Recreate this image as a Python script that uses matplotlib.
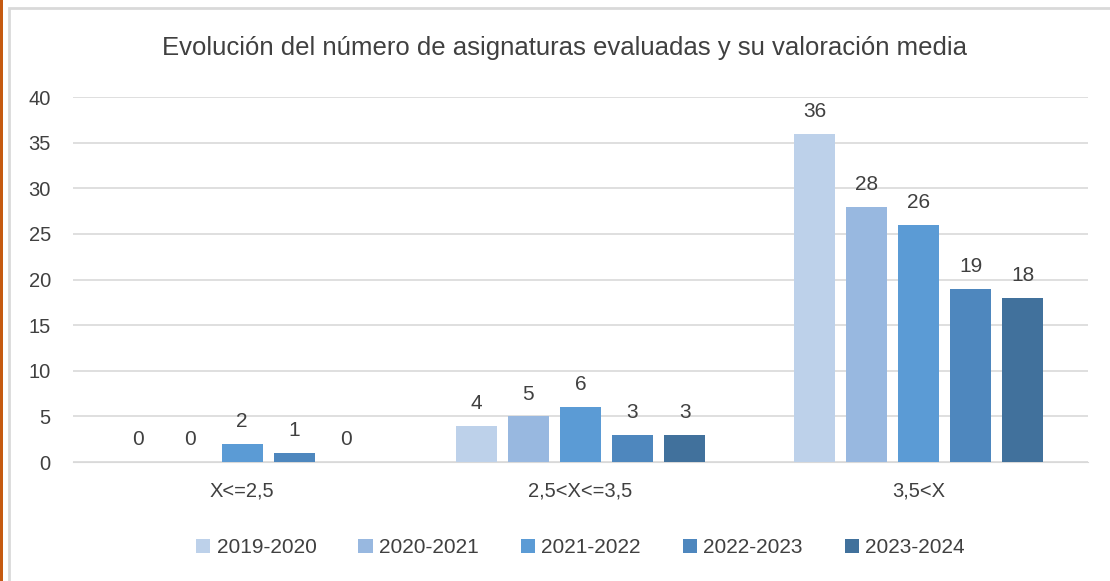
import numpy as np
import matplotlib.pyplot as plt
from matplotlib.patches import Rectangle

categories = ['X<=2,5', '2,5<X<=3,5', '3,5<X']
years = ['2019-2020', '2020-2021', '2021-2022', '2022-2023', '2023-2024']
values = [
    [0, 4, 36],   # 2019-2020
    [0, 5, 28],   # 2020-2021
    [2, 6, 26],   # 2021-2022
    [1, 3, 19],   # 2022-2023
    [0, 3, 18],   # 2023-2024
]
colors = ['#BDD1EA', '#98B8E0', '#5B9BD5', '#4E87BE', '#41719C']

plt.rcParams['font.family'] = ['Liberation Sans', 'DejaVu Sans']
text_color = '#404040'

fig = plt.figure(figsize=(11.1, 5.81), dpi=100)
ax = fig.add_axes([0.0658, 0.2048, 0.9142, 0.6282])

# outer frame and orange edge
fig.patches.append(Rectangle((9 / 1110, -0.1), 1.2, 1 - 8 / 581 + 0.1,
                             transform=fig.transFigure, fill=False,
                             edgecolor='#D9D9D9', linewidth=2))
fig.patches.append(Rectangle((0, 0), 3 / 1110, 1, transform=fig.transFigure,
                             facecolor='#C55A11', edgecolor='none'))

x = np.arange(len(categories))
step = 0.154
width = 0.121
for i, (yr, vals) in enumerate(zip(years, values)):
    pos = x + (i - 2) * step
    bars = ax.bar(pos, vals, width, color=colors[i], label=yr, zorder=3)
    for b, v in zip(bars, vals):
        ax.text(b.get_x() + b.get_width() / 2, v + 1.4, str(v),
                ha='center', va='bottom', fontsize=15, color=text_color)

ax.set_xlim(-0.5, 2.5)
ax.set_ylim(0, 40)
ax.set_yticks(range(0, 41, 5))
ax.set_xticks(x)
ax.set_xticklabels(categories)
ax.grid(axis='y', color='#D9D9D9', linewidth=1.2, zorder=0)
for s in ax.spines.values():
    s.set_visible(False)
ax.spines['bottom'].set_visible(True)
ax.spines['bottom'].set_color('#D9D9D9')
ax.tick_params(length=0, labelsize=14.5, labelcolor=text_color)
ax.tick_params(axis='x', pad=14)
ax.tick_params(axis='y', pad=16)

fig.text(0.509, 0.917, 'Evolución del número de asignaturas evaluadas y su valoración media',
         ha='center', va='center', fontsize=18.5, color=text_color)

leg = ax.legend(loc='center', bbox_to_anchor=(0.5, -0.235), ncol=5, frameon=False,
                fontsize=15, handlelength=0.7, handleheight=0.7, handletextpad=0.3,
                columnspacing=2.0)
for t in leg.get_texts():
    t.set_color(text_color)

fig.savefig('out.png', dpi=100)
